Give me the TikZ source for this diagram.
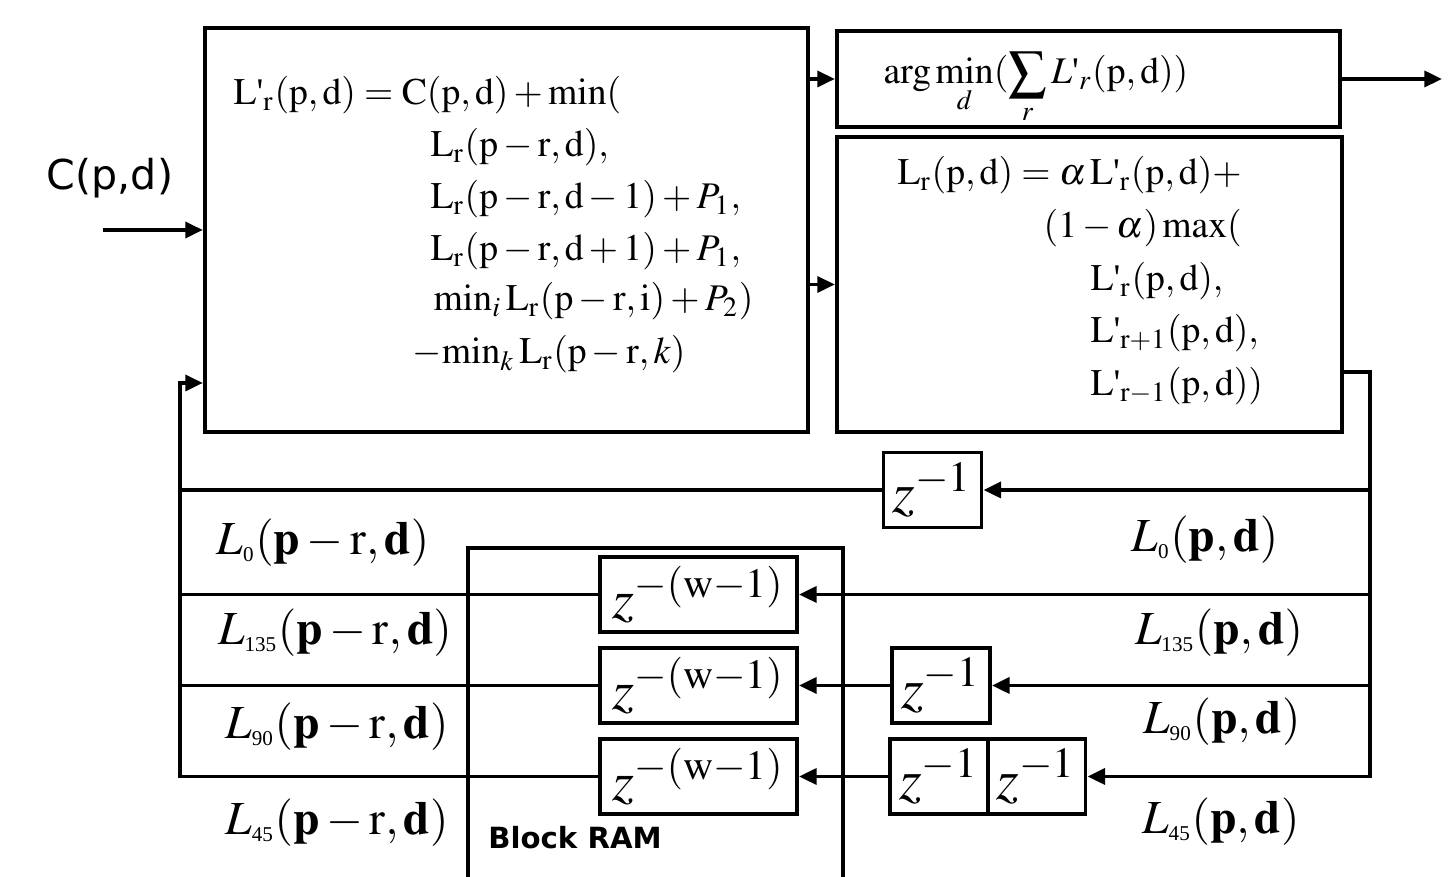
\documentclass[tikz,border=0pt]{standalone}
\usepackage{mathptmx}
\usepackage{fontspec}
\setmainfont{Liberation Serif}
\setsansfont{DejaVu Sans}
\usetikzlibrary{arrows.meta,positioning,calc}

\newcommand{\rmx}[1]{\mathrm{#1}}
\newcommand{\Lp}{{\rmx{L}\textrm{\textquotesingle}}}
\newcommand{\dir}[1]{\mbox{\fontsize{6}{6}\selectfont #1}}

\begin{document}
\begin{tikzpicture}[
    x=0.01cm, y=-0.01cm,
    blk/.style={rectangle, draw=black, line width=1.1pt, inner sep=0pt},
    dly/.style={blk, minimum width=0.98cm, minimum height=0.75cm, font=\fontsize{16.5}{18}\selectfont},
    ramdly/.style={blk, minimum width=1.97cm, minimum height=0.75cm, font=\fontsize{16}{18}\selectfont},
    eq/.style={anchor=base west, inner sep=0pt, font=\fontsize{10.7}{12}\selectfont},
    lbl/.style={anchor=center, inner sep=0pt, font=\fontsize{13.5}{15}\selectfont},
    wire/.style={line width=1.1pt},
    arr/.style={wire, -{Triangle[length=5pt,width=4.5pt]}}
]
\useasboundingbox (0,0) rectangle (1453,877);

% cost, selection and aggregation blocks
\node[blk, minimum width=6.03cm, minimum height=4.04cm] (cost) at (506.5,230) {};
\node[blk, minimum width=5.03cm, minimum height=0.96cm] (amin) at (1088.5,79) {};
\node[blk, minimum width=5.05cm, minimum height=2.95cm] (agg) at (1089.5,284.5) {};

\node[eq] (c1) at (233,105) {$\Lp_{\rmx{r}}(\rmx{p},\rmx{d})=\rmx{C}(\rmx{p},\rmx{d})+\rmx{min}($};
\node[eq] (c2) at (430,157) {$\rmx{L}_{\rmx{r}}(\rmx{p}-\rmx{r},\rmx{d}),$};
\node[eq] (c3) at (430,209) {$\rmx{L}_{\rmx{r}}(\rmx{p}-\rmx{r},\rmx{d}-1)+P_1,$};
\node[eq] (c4) at (430,261) {$\rmx{L}_{\rmx{r}}(\rmx{p}-\rmx{r},\rmx{d}+1)+P_1,$};
\node[eq] (c5) at (433,311) {$\rmx{min}_i\,\rmx{L}_{\rmx{r}}(\rmx{p}-\rmx{r},\rmx{i})+P_2)$};
\node[eq] (c6) at (412,364) {$-\rmx{min}_k\,\rmx{L}_{\rmx{r}}(\rmx{p}-\rmx{r},k)$};

\node[eq] (a1) at (883,84) {$\displaystyle\arg\min_{d}(\sum_{r}L\textrm{\textquotesingle}_{r}(\rmx{p},\rmx{d}))$};

\node[eq] (g1) at (897,185) {$\rmx{L}_{\rmx{r}}(\rmx{p},\rmx{d})=\alpha\,\Lp_{\rmx{r}}(\rmx{p},\rmx{d})+$};
\node[eq] (g2) at (1043,238) {$(1-\alpha)\,\rmx{max}($};
\node[eq] (g3) at (1090,291) {$\Lp_{\rmx{r}}(\rmx{p},\rmx{d}),$};
\node[eq] (g4) at (1090,343) {$\Lp_{\rmx{r}+1}(\rmx{p},\rmx{d}),$};
\node[eq] (g5) at (1090,396) {$\Lp_{\rmx{r}-1}(\rmx{p},\rmx{d}))$};

\node[font=\sffamily\fontsize{11.7}{13}\selectfont, inner sep=0pt] (cin) at (110,178) {C(p,d)};

% delays
\node[dly] (z0) at (932.5,490) {$z^{-1}$};
\node[ramdly] (zw1) at (698.5,594.5) {$z^{-(\rmx{w}-1)}$};
\node[ramdly] (zw2) at (698.5,685.5) {$z^{-(\rmx{w}-1)}$};
\node[ramdly] (zw3) at (698.5,776.5) {$z^{-(\rmx{w}-1)}$};
\node[dly] (z1b) at (941,685.5) {$z^{-1}$};
\node[dly] (z2a) at (939,776.5) {$z^{-1}$};
\node[dly] (z2b) at (1036.5,776.5) {$z^{-1}$};

% block RAM
\draw[wire] (468,877) |- (843,548) -- (843,877);
\node[font=\sffamily\bfseries\fontsize{8.3}{10}\selectfont, inner sep=0pt] (bram) at (575,838) {Block RAM};

% path labels
\node[lbl] (l0in) at (323,543) {$L_{\dir{0}}\mathbf{(p}-\mathrm{r},\mathbf{d)}$};
\node[lbl] (l135in) at (335,633) {$L_{\dir{135}}\mathbf{(p}-\mathrm{r},\mathbf{d)}$};
\node[lbl] (l90in) at (337,727) {$L_{\dir{90}}\mathbf{(p}-\mathrm{r},\mathbf{d)}$};
\node[lbl] (l45in) at (337,823) {$L_{\dir{45}}\mathbf{(p}-\mathrm{r},\mathbf{d)}$};
\node[lbl] (l0out) at (1205,540) {$L_{\dir{0}}\mathbf{(p,d)}$};
\node[lbl] (l135out) at (1219,633) {$L_{\dir{135}}\mathbf{(p,d)}$};
\node[lbl] (l90out) at (1222,722) {$L_{\dir{90}}\mathbf{(p,d)}$};
\node[lbl] (l45out) at (1221,822) {$L_{\dir{45}}\mathbf{(p,d)}$};

% wires
\coordinate (src) at (103,230);
\coordinate (res) at (1442,79);
\coordinate (tap) at (1370,372);
\coordinate (lft) at (180,383);

\draw[arr] (src) -- (cost.west);
\draw[arr] (cost.east |- amin) -- (amin.west);
\draw[arr] (cost.east |- agg) -- (agg.west);
\draw[arr] (amin.east) -- (res);

\draw[arr] (agg.east |- tap) -| (tap |- z2b) -- (z2b.east);
\draw[arr] (tap |- z0) -- (z0.east);
\draw[arr] (tap |- zw1) -- (zw1.east);
\draw[arr] (tap |- z1b) -- (z1b.east);
\draw[arr] (z1b.west) -- (zw2.east);
\draw[arr] (z2a.west) -- (zw3.east);

\draw[wire] (z0.west) -- (lft |- z0);
\draw[wire] (zw1.west) -- (lft |- zw1);
\draw[wire] (zw2.west) -- (lft |- zw2);
\draw[arr] (zw3.west) -| (lft) -- (cost.west |- lft);
\end{tikzpicture}
\end{document}
